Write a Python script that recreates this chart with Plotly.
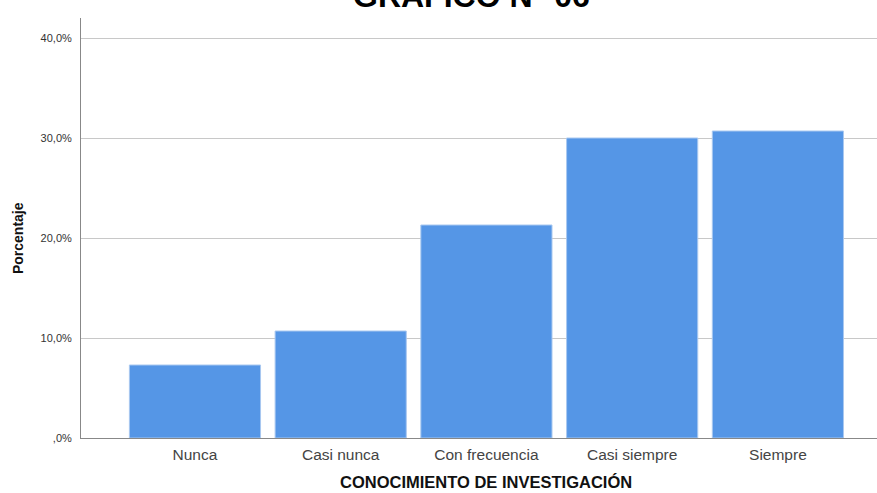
import plotly.graph_objects as go

categories = ["Nunca", "Casi nunca", "Con frecuencia", "Casi siempre", "Siempre"]
percentages = [7.3, 10.7, 21.3, 30.0, 30.7]
y_tickvals = [0, 10, 20, 30, 40]
y_ticktext = [",0%", "10,0%", "20,0%", "30,0%", "40,0%"]

FONT = "Liberation Sans, Arial, sans-serif"

fig = go.Figure(go.Bar(
    x=list(range(len(categories))),
    y=percentages,
    width=0.9,
    marker=dict(color="#5596E6", line=dict(color="#A9C8F0", width=1)),
    hoverinfo="x+y",
))

fig.update_layout(
    width=877, height=493,
    margin=dict(l=81, r=0, t=18, b=55),
    paper_bgcolor="white", plot_bgcolor="white",
    showlegend=False,
    font=dict(family=FONT, color="#222222"),
    xaxis=dict(
        range=[-0.782, 4.68],
        tickvals=list(range(len(categories))),
        ticktext=categories,
        tickfont=dict(size=15.5, color="#444444"),
        showgrid=False, zeroline=False,
        showline=True, linecolor="#888888", linewidth=1,
        ticks="outside", ticklen=2, tickcolor="rgba(0,0,0,0)",
        automargin=False,
    ),
    yaxis=dict(
        range=[0, 42],
        tickvals=y_tickvals,
        ticktext=y_ticktext,
        tickfont=dict(size=11, color="#333333"),
        showgrid=True, gridcolor="#C8C8C8", gridwidth=1,
        zeroline=False,
        showline=True, linecolor="#888888", linewidth=1,
        ticks="outside", ticklen=6, tickcolor="rgba(0,0,0,0)",
        automargin=False,
    ),
    annotations=[
        dict(
            text="<b>GRAFICO N° 06</b>",
            xref="paper", yref="paper", x=0.49, y=1.0, xanchor="center", yanchor="bottom",
            yshift=2,
            showarrow=False, font=dict(size=32, color="#000000", family=FONT),
        ),
        dict(
            text="<b>Porcentaje</b>",
            xref="paper", yref="paper", x=0, y=0.476, xanchor="center", yanchor="middle",
            xshift=-63, textangle=-90,
            showarrow=False, font=dict(size=14, color="#111111", family=FONT),
        ),
        dict(
            text="<b>CONOCIMIENTO DE INVESTIGACIÓN</b>",
            xref="paper", yref="paper", x=0.509, y=-0.105, xanchor="center", yanchor="middle",
            showarrow=False, font=dict(size=16.5, color="#111111", family=FONT),
        ),
    ],
)

fig.write_html("out.html", config={"displayModeBar": False},
               post_script="document.body.style.margin='0';document.body.style.padding='0';")
